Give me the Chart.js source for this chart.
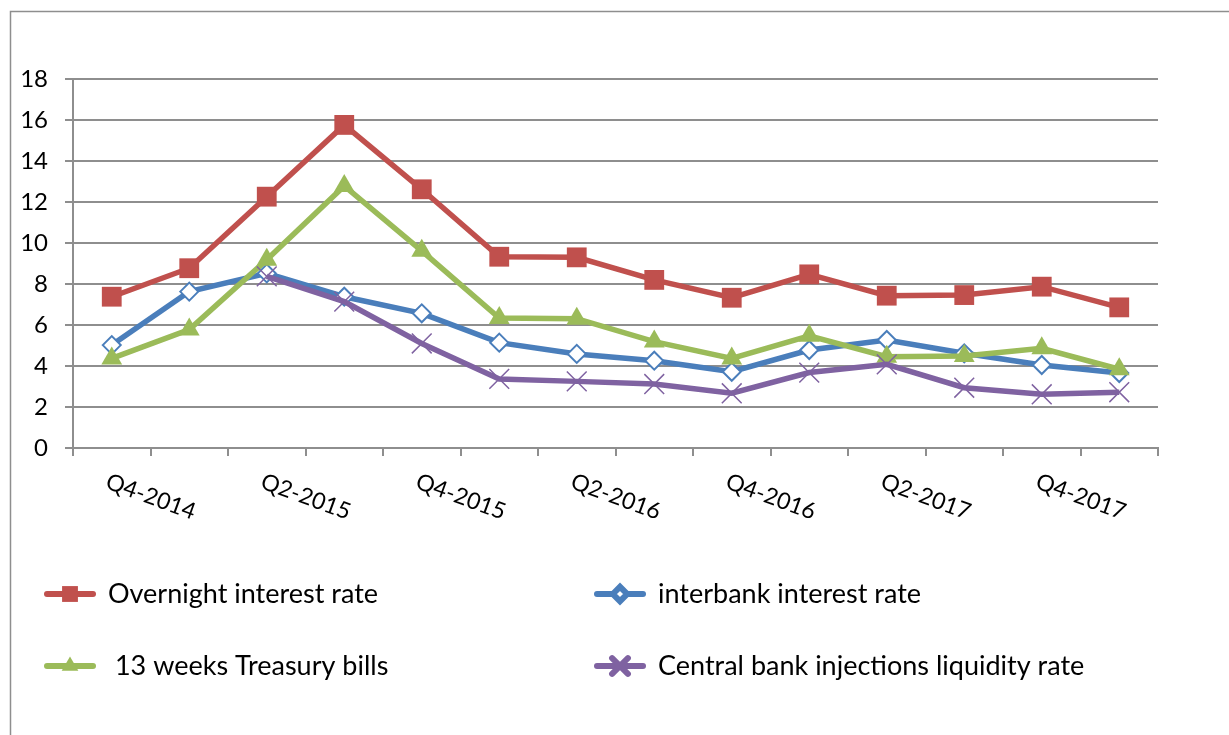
<!DOCTYPE html>
<html>
<head>
<meta charset="utf-8">
<script src="https://cdn.jsdelivr.net/npm/chart.js@4/dist/chart.umd.min.js"></script>
<style>
  html, body { margin: 0; padding: 0; background: #fff; }
  #wrap { width: 1229px; height: 735px; position: relative; }
</style>
</head>
<body>
<div id="wrap"><canvas id="c" width="1229" height="735"></canvas></div>
<script>
// Quarters shown on the category axis (a label is printed on every second one)
const quarters = [
  'Q4-2014', 'Q1-2015', 'Q2-2015', 'Q3-2015', 'Q4-2015', 'Q1-2016', 'Q2-2016',
  'Q3-2016', 'Q4-2016', 'Q1-2017', 'Q2-2017', 'Q3-2017', 'Q4-2017', 'Q1-2018'
];

// Rates, in percent
const overnightRate = [7.38, 8.77, 12.26, 15.76, 12.62, 9.33, 9.30, 8.20, 7.33, 8.47, 7.43, 7.46, 7.87, 6.86];
const interbankRate = [5.02, 7.63, 8.52, 7.38, 6.57, 5.14, 4.59, 4.26, 3.72, 4.78, 5.27, 4.62, 4.05, 3.66];
const treasuryBills13w = [4.37, 5.78, 9.18, 12.78, 9.62, 6.34, 6.31, 5.19, 4.37, 5.47, 4.45, 4.49, 4.86, 3.84];
const liquidityInjectionRate = [null, null, 8.37, 7.14, 5.10, 3.37, 3.25, 3.12, 2.67, 3.68, 4.08, 2.94, 2.62, 2.72];

// Value axis
const yMin = 0, yMax = 18, yStep = 2;

const FONT = 'Lato, Carlito, "Open Sans", sans-serif';
const GRID = '#8e8e8e';

const datasets = [
  {
    label: 'Overnight interest rate',
    data: overnightRate,
    borderColor: '#C0504D', backgroundColor: '#C0504D',
    borderWidth: 5.5, pointStyle: 'rect', pointRadius: 14, pointBorderWidth: 0,
    order: 4
  },
  {
    label: 'interbank interest rate',
    data: interbankRate,
    borderColor: '#4A7EBB', backgroundColor: '#ffffff',
    borderWidth: 5.5, pointStyle: 'rectRot', pointRadius: 9, pointBorderWidth: 2,
    pointBorderColor: '#4A7EBB', pointBackgroundColor: '#ffffff',
    order: 3
  },
  {
    label: ' 13 weeks Treasury bills',
    data: treasuryBills13w,
    borderColor: '#9BBB59', backgroundColor: '#9BBB59',
    borderWidth: 5.5, pointStyle: 'triangle', pointRadius: 12, pointBorderWidth: 0,
    order: 2
  },
  {
    label: 'Central bank injections liquidity rate',
    data: liquidityInjectionRate,
    borderColor: '#7F62A1', backgroundColor: '#7F62A1',
    borderWidth: 5.5, pointStyle: 'crossRot', pointRadius: 14, pointBorderWidth: 1.5,
    pointBorderColor: '#7F62A1',
    order: 1
  }
];

// White page with the chart frame
const framePlugin = {
  id: 'frame',
  beforeDraw(chart) {
    const ctx = chart.ctx;
    ctx.save();
    ctx.fillStyle = '#ffffff';
    ctx.fillRect(0, 0, chart.width, chart.height);
    ctx.strokeStyle = GRID;
    ctx.lineWidth = 1.5;
    ctx.strokeRect(10.5, 11.5, 1400, 900);
    ctx.restore();
  }
};

// Slanted category labels, every second quarter
const xLabelsPlugin = {
  id: 'xLabels',
  afterDraw(chart) {
    const ctx = chart.ctx;
    const xs = chart.scales.x;
    ctx.save();
    ctx.font = '23px ' + FONT;
    ctx.fillStyle = '#000';
    ctx.textAlign = 'left';
    ctx.textBaseline = 'top';
    quarters.forEach((q, i) => {
      if (i % 2 !== 0) return;
      const x = xs.getPixelForValue(i);
      ctx.save();
      ctx.translate(x - 1, xs.top + 22);
      ctx.rotate(20 * Math.PI / 180);
      ctx.fillText(q, 0, 0);
      ctx.restore();
    });
    ctx.restore();
  }
};

// Two-column legend below the plot
const legendPlugin = {
  id: 'twoColLegend',
  afterDraw(chart) {
    const ctx = chart.ctx;
    const cols = [47, 597];
    const rows = [594, 666];
    ctx.save();
    ctx.font = '27px ' + FONT;
    ctx.textBaseline = 'middle';
    ctx.textAlign = 'left';
    chart.data.datasets.forEach((ds, i) => {
      const x0 = cols[i % 2];
      const y = rows[Math.floor(i / 2)];
      ctx.strokeStyle = ds.borderColor;
      ctx.lineWidth = 6;
      ctx.lineCap = 'round';
      ctx.beginPath();
      ctx.moveTo(x0, y);
      ctx.lineTo(x0 + 46, y);
      ctx.stroke();
      const mx = x0 + 23;
      ctx.fillStyle = ds.pointBackgroundColor || ds.backgroundColor;
      ctx.strokeStyle = ds.pointBorderColor || ds.borderColor;
      Chart.helpers.drawPoint(ctx, {
        pointStyle: ds.pointStyle,
        radius: ds.pointRadius * 0.8,
        rotation: 0,
        borderWidth: ds.pointBorderWidth
      }, mx, y);
      ctx.fillStyle = '#000';
      ctx.fillText(ds.label, x0 + 61, y);
    });
    ctx.restore();
  }
};

new Chart(document.getElementById('c'), {
  type: 'line',
  data: { labels: quarters, datasets },
  plugins: [framePlugin, xLabelsPlugin, legendPlugin],
  options: {
    responsive: false,
    animation: false,
    layout: { padding: { top: 79, right: 71, bottom: 0, left: 0 } },
    plugins: { legend: { display: false }, tooltip: { enabled: false } },
    elements: { line: { tension: 0 } },
    scales: {
      x: {
        type: 'category',
        offset: true,
        afterFit(scale) { scale.height = 735 - 448; },
        grid: {
          offset: true, drawOnChartArea: false, drawTicks: true,
          tickLength: 8, color: GRID, lineWidth: 2
        },
        border: { display: true, color: GRID, width: 2 },
        ticks: { display: false }
      },
      y: {
        min: yMin, max: yMax,
        afterFit(scale) { scale.width = 73; },
        grid: { color: GRID, lineWidth: 2, tickLength: 8, drawTicks: true },
        border: { display: true, color: GRID, width: 2 },
        ticks: {
          stepSize: yStep, padding: 17, color: '#000',
          font: { family: FONT, size: 24 }
        }
      }
    }
  }
});
</script>
</body>
</html>
